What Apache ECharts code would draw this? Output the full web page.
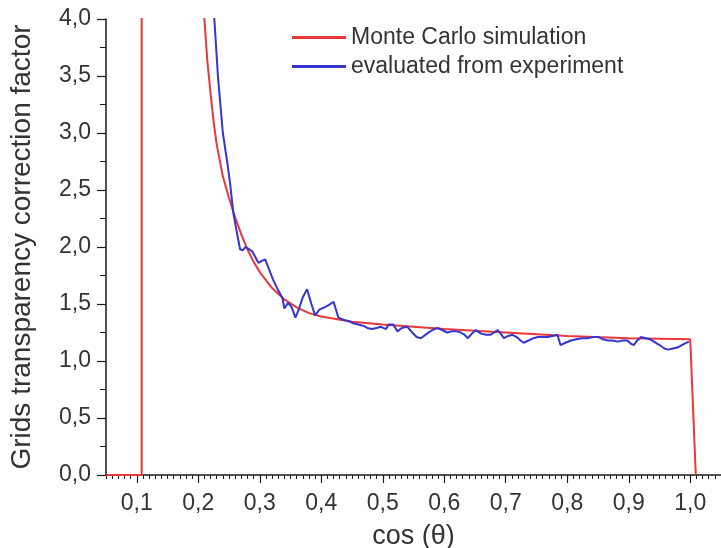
<!DOCTYPE html>
<html>
<head>
<meta charset="utf-8">
<script src="https://cdn.jsdelivr.net/npm/echarts@6/dist/echarts.min.js"></script>
<style>html,body{margin:0;padding:0;background:#fff}#c{width:721px;height:548px}</style>
</head>
<body>
<div id="c"></div>
<script>
const xTickLabels = [0.1,0.2,0.3,0.4,0.5,0.6,0.7,0.8,0.9,1.0];
const yTickLabels = [0,0.5,1,1.5,2,2.5,3,3.5,4];
const seriesNames = ['Monte Carlo simulation','evaluated from experiment'];

const mcX = [0.05,0.108,0.108,0.2,0.21,0.215,0.22,0.225,0.23,0.24,0.25,0.26,0.27,0.28,0.29,0.30,0.32,0.34,0.36,0.38,0.40,0.45,0.50,0.60,0.70,0.80,0.90,1.00,1.009];
const mcY = [0,0,40,4.6,4.0,3.62,3.35,3.1,2.9,2.62,2.43,2.26,2.11,1.98,1.87,1.78,1.64,1.54,1.47,1.42,1.39,1.345,1.32,1.28,1.25,1.22,1.20,1.19,0];

const expX = [0.225,0.232,0.240,0.247,0.252,0.257,0.262,0.268,0.272,0.277,0.283,0.288,0.298,0.304,0.309,0.322,0.330,0.337,0.340,0.346,0.352,0.358,0.364,0.370,0.377,0.384,0.390,0.397,0.405,0.412,0.420,0.428,0.437,0.445,0.452,0.460,0.468,0.475,0.482,0.490,0.497,0.505,0.510,0.517,0.524,0.531,0.540,0.548,0.555,0.562,0.572,0.580,0.589,0.597,0.605,0.612,0.620,0.627,0.633,0.638,0.645,0.651,0.660,0.668,0.675,0.681,0.687,0.692,0.697,0.704,0.711,0.718,0.724,0.729,0.737,0.745,0.752,0.760,0.768,0.776,0.784,0.789,0.797,0.806,0.815,0.824,0.833,0.842,0.851,0.858,0.866,0.874,0.882,0.890,0.898,0.904,0.908,0.914,0.920,0.928,0.935,0.941,0.950,0.958,0.964,0.972,0.980,0.990,0.998];
const expY = [4.1,3.5,3.0,2.75,2.55,2.3,2.15,1.98,1.97,2.00,1.98,1.96,1.86,1.88,1.89,1.71,1.62,1.55,1.46,1.51,1.47,1.38,1.46,1.56,1.63,1.50,1.40,1.45,1.47,1.49,1.52,1.38,1.36,1.35,1.33,1.32,1.31,1.29,1.28,1.29,1.30,1.28,1.32,1.32,1.26,1.29,1.30,1.25,1.21,1.20,1.24,1.27,1.29,1.27,1.25,1.26,1.26,1.25,1.23,1.20,1.24,1.27,1.24,1.23,1.23,1.25,1.27,1.24,1.20,1.22,1.23,1.21,1.18,1.16,1.18,1.20,1.21,1.21,1.21,1.22,1.23,1.14,1.16,1.18,1.19,1.20,1.20,1.21,1.21,1.19,1.18,1.18,1.17,1.18,1.18,1.15,1.14,1.18,1.21,1.20,1.19,1.17,1.14,1.11,1.10,1.11,1.12,1.15,1.17];

const pair = (xs, ys) => xs.map((x, i) => [x, ys[i]]);
const fmt = v => Number(v).toFixed(1).replace('.', ',');
const FONT = 'Liberation Sans, Arial, sans-serif';
const AX = '#1a1a1a';

const chart = echarts.init(document.getElementById('c'), null, {renderer: 'canvas'});
chart.setOption({
  animation: false,
  backgroundColor: '#fff',
  grid: {left: 106, right: 0, top: 19, bottom: 73, containLabel: false, outerBoundsMode: 'none'},
  legend: {
    orient: 'vertical', left: 287, top: 21,
    itemWidth: 54, itemHeight: 3, icon: 'rect', itemGap: 6,
    textStyle: {fontSize: 23, color: '#333', fontFamily: FONT},
    data: seriesNames
  },
  xAxis: [{
    type: 'value', min: 0.05, max: 1.05,
    name: 'cos (θ)', nameLocation: 'middle', nameGap: 48,
    nameTextStyle: {fontSize: 27, color: '#333', fontFamily: FONT},
    axisLine: {show: true, lineStyle: {color: AX, width: 1.5}},
    axisTick: {show: true, customValues: xTickLabels, length: 8, lineStyle: {color: AX, width: 1.2}},
    axisLabel: {customValues: xTickLabels, formatter: fmt, fontSize: 23, color: '#333', fontFamily: FONT, margin: 17},
    splitLine: {show: false}
  }, {
    type: 'value', min: 0.05, max: 1.05, interval: 0.01, position: 'bottom',
    axisLine: {show: false},
    axisTick: {show: true, length: 4, lineStyle: {color: AX, width: 1}},
    axisLabel: {show: false},
    splitLine: {show: false}
  }],
  yAxis: {
    type: 'value', min: 0, max: 4, interval: 0.5,
    name: 'Grids transparency correction factor', nameLocation: 'middle', nameGap: 70,
    nameTextStyle: {fontSize: 28, color: '#333', fontFamily: FONT},
    axisLine: {show: true, lineStyle: {color: AX, width: 1.5}},
    axisTick: {show: true, length: 9, lineStyle: {color: AX, width: 1.2}},
    minorTick: {show: true, splitNumber: 2, length: 6, lineStyle: {color: AX, width: 1}},
    axisLabel: {formatter: fmt, fontSize: 23, color: '#333', fontFamily: FONT, margin: 15},
    splitLine: {show: false}
  },
  series: [{
    name: seriesNames[0], type: 'line', xAxisIndex: 0, showSymbol: false, clip: true,
    lineStyle: {color: '#e8383a', width: 2}, itemStyle: {color: '#e8383a'},
    data: pair(mcX, mcY), z: 2
  }, {
    name: seriesNames[1], type: 'line', xAxisIndex: 0, showSymbol: false, clip: true,
    lineStyle: {color: '#3535d0', width: 2}, itemStyle: {color: '#3535d0'},
    data: pair(expX, expY), z: 3
  }]
});
</script>
</body>
</html>
